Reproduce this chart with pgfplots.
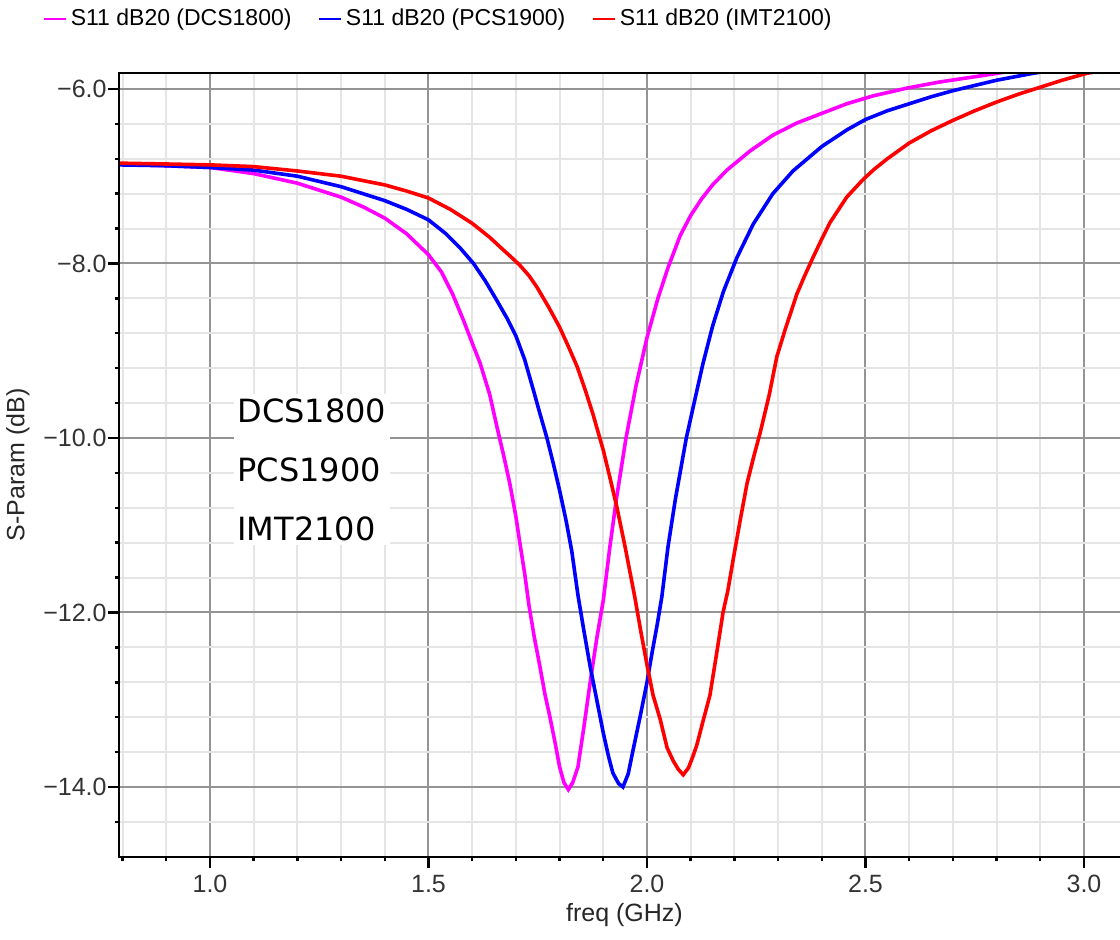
\documentclass[border=0pt]{standalone}
\usepackage{pgfplots}
\pgfplotsset{compat=1.18}
\usepackage{fontspec}
\setmainfont{Liberation Sans}
\newfontfamily\labelfont{DejaVu Sans}
\definecolor{dcs}{RGB}{255,0,255}
\definecolor{pcs}{RGB}{0,0,255}
\definecolor{imt}{RGB}{255,0,0}
\begin{document}
\begin{tikzpicture}
\begin{axis}[
  name=ax,
  scale only axis,
  width=500.5pt, height=392pt,
  xmin=0.7918, xmax=3.0824,
  ymin=-14.802, ymax=-5.817,
  xtick={1,1.5,2,2.5,3},
  xticklabels={1.0,1.5,2.0,2.5,3.0},
  minor xtick={0.8,0.9,1.1,1.2,1.3,1.4,1.6,1.7,1.8,1.9,2.1,2.2,2.3,2.4,2.6,2.7,2.8,2.9},
  ytick={-14,-12,-10,-8,-6},
  yticklabels={−14.0,−12.0,−10.0,−8.0,−6.0},
  minor ytick={-14.4,-13.6,-13.2,-12.8,-12.4,-11.6,-11.2,-10.8,-10.4,-9.6,-9.2,-8.8,-8.4,-7.6,-7.2,-6.8,-6.4},
  grid=both,
  major grid style={color=black!42, line width=1pt},
  minor grid style={color=black!10, line width=1pt},
  axis line style={draw=none},
  tick align=outside,
  xtick pos=bottom, ytick pos=left,
  major tick length=5.5pt, minor tick length=2.2pt,
  every tick/.style={black, line width=1.2pt},
  tick label style={font=\fontsize{12.5}{14}\selectfont, text=black!80},
  yticklabel style={inner xsep=0.5pt},
  xlabel={freq (GHz)},
  ylabel={S-Param (dB)},
  label style={font=\fontsize{12.5}{14}\selectfont, text=black!85},
  xlabel style={at={(axis description cs:0.505,-0.074)}, anchor=center},
  ylabel style={at={(axis description cs:-0.1009,0.5)}, anchor=center},
  legend columns=3,
  legend style={at={(axis description cs:0,1)}, anchor=west,
    xshift=-38.5pt, yshift=27pt, draw=none, fill=none, inner sep=0pt,
    font=\fontsize{11.5}{13}\selectfont,
    /tikz/every even column/.append style={column sep=11pt}},
  legend image code/.code={\draw[#1, line width=1.2pt] (0pt,0pt) -- (11pt,0pt);},
  legend cell align=left,
]
% S11 magnitude, DCS1800 band
\addplot[dcs, line width=1.8pt] coordinates {
  (0.79,-6.86) (0.9,-6.88) (1.0,-6.90) (1.1,-6.97) (1.2,-7.08) (1.3,-7.24)
  (1.35,-7.35) (1.4,-7.48) (1.45,-7.66) (1.5,-7.9) (1.53,-8.1) (1.556,-8.36)
  (1.58,-8.65) (1.603,-8.95) (1.618,-9.14) (1.64,-9.5) (1.657,-9.88)
  (1.672,-10.2) (1.686,-10.52) (1.70,-10.9) (1.709,-11.2) (1.72,-11.55)
  (1.73,-11.92) (1.742,-12.28) (1.755,-12.62) (1.767,-12.95) (1.778,-13.2)
  (1.79,-13.5) (1.80,-13.77) (1.81,-13.95) (1.82,-14.03) (1.83,-13.95)
  (1.842,-13.77) (1.856,-13.3) (1.870,-12.8) (1.885,-12.3) (1.90,-11.86)
  (1.915,-11.25) (1.93,-10.7) (1.952,-10.0) (1.975,-9.4) (2.0,-8.85)
  (2.025,-8.4) (2.048,-8.05) (2.076,-7.68) (2.1,-7.45) (2.125,-7.26)
  (2.15,-7.1) (2.183,-6.93) (2.236,-6.71) (2.288,-6.53) (2.343,-6.39)
  (2.4,-6.28) (2.457,-6.17) (2.517,-6.08) (2.595,-5.99) (2.67,-5.92)
  (2.79,-5.83) (2.85,-5.78)
};
\addlegendentry{S11 dB20 (DCS1800)}
% S11 magnitude, PCS1900 band
\addplot[pcs, line width=1.8pt] coordinates {
  (0.79,-6.87) (0.9,-6.88) (1.0,-6.9) (1.1,-6.93) (1.2,-7.0) (1.3,-7.12)
  (1.4,-7.28) (1.45,-7.38) (1.5,-7.5) (1.54,-7.66) (1.572,-7.82) (1.603,-8.0)
  (1.63,-8.2) (1.656,-8.42) (1.68,-8.63) (1.70,-8.83) (1.72,-9.1)
  (1.74,-9.45) (1.755,-9.72) (1.771,-10.0) (1.786,-10.3) (1.80,-10.6)
  (1.815,-10.95) (1.828,-11.3) (1.842,-11.8) (1.856,-12.22) (1.87,-12.62)
  (1.885,-13.0) (1.90,-13.38) (1.912,-13.65) (1.922,-13.84) (1.935,-13.96)
  (1.945,-14.0) (1.957,-13.85) (1.968,-13.58) (1.984,-13.2) (2.0,-12.8)
  (2.012,-12.45) (2.023,-12.15) (2.034,-11.82) (2.048,-11.25) (2.065,-10.7)
  (2.09,-10.0) (2.11,-9.55) (2.128,-9.15) (2.15,-8.72) (2.175,-8.32)
  (2.206,-7.93) (2.243,-7.55) (2.288,-7.2) (2.334,-6.94) (2.4,-6.66)
  (2.457,-6.47) (2.5,-6.35) (2.55,-6.25) (2.6,-6.17) (2.65,-6.09)
  (2.7,-6.02) (2.8,-5.9) (2.884,-5.82) (2.95,-5.77)
};
\addlegendentry{S11 dB20 (PCS1900)}
% S11 magnitude, IMT2100 band
\addplot[imt, line width=1.8pt] coordinates {
  (0.79,-6.85) (0.9,-6.86) (1.0,-6.87) (1.1,-6.89) (1.2,-6.94) (1.3,-7.0)
  (1.4,-7.1) (1.45,-7.17) (1.5,-7.25) (1.55,-7.38) (1.6,-7.54) (1.64,-7.7)
  (1.668,-7.83) (1.69,-7.93) (1.709,-8.02) (1.73,-8.14) (1.748,-8.27)
  (1.775,-8.5) (1.80,-8.73) (1.82,-8.95) (1.84,-9.18) (1.858,-9.44)
  (1.876,-9.72) (1.9,-10.14) (1.915,-10.45) (1.931,-10.79) (1.95,-11.25)
  (1.972,-11.82) (1.986,-12.22) (2.0,-12.6) (2.014,-12.95) (2.03,-13.22)
  (2.046,-13.55) (2.06,-13.7) (2.072,-13.8) (2.083,-13.86) (2.095,-13.78)
  (2.105,-13.65) (2.114,-13.52) (2.128,-13.25) (2.144,-12.95) (2.16,-12.45)
  (2.174,-12.0) (2.185,-11.75) (2.197,-11.4) (2.213,-10.95) (2.229,-10.52)
  (2.245,-10.2) (2.259,-9.94) (2.28,-9.5) (2.297,-9.07) (2.316,-8.76)
  (2.343,-8.35) (2.36,-8.15) (2.38,-7.93) (2.4,-7.72) (2.419,-7.53)
  (2.457,-7.24) (2.494,-7.04) (2.52,-6.92) (2.55,-6.8) (2.6,-6.62)
  (2.65,-6.48) (2.7,-6.36) (2.75,-6.25) (2.8,-6.15) (2.85,-6.06) (2.9,-5.98)
  (2.95,-5.9) (3.007,-5.82) (3.05,-5.78)
};
\addlegendentry{S11 dB20 (IMT2100)}
\node[anchor=north west, fill=white, align=left, inner sep=2pt,
  font=\labelfont\fontsize{16}{29.5}\selectfont]
  at (axis cs:1.053,-9.496) {DCS1800\\PCS1900\\IMT2100};
\end{axis}
\draw[black, line width=1.3pt] (ax.north east) -- (ax.north west) -- (ax.south west) -- (ax.south east);
\pgfresetboundingbox
\useasboundingbox (-59.5pt,-41.5pt) rectangle (500.5pt,428.5pt);
\end{tikzpicture}
\end{document}
